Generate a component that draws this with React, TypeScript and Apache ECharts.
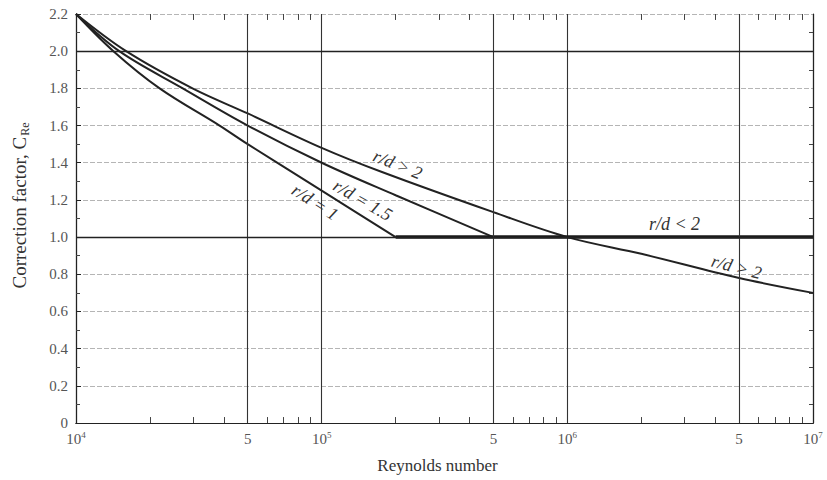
import React, { useEffect, useRef } from "react";
import * as echarts from "echarts";

// ---- data ----
const reynoldsRd1 = [1e4, 1.42e4, 2.19e4, 3.84e4, 5e4, 1e5, 2e5];
const factorRd1 = [2.2, 2.0, 1.8, 1.6, 1.5, 1.25, 1.0];

const reynoldsRd15 = [1e4, 1.5e4, 2.72e4, 5e4, 1e5, 2e5, 5e5];
const factorRd15 = [2.2, 2.0, 1.8, 1.6, 1.4, 1.225, 1.0];

const reynoldsRd2 = [1e4, 1.6e4, 2.98e4, 5e4, 1e5, 1.76e5, 5e5, 1e6, 2e6, 5e6, 1e7];
const factorRd2 = [2.2, 2.0, 1.8, 1.665, 1.48, 1.35, 1.134, 1.0, 0.91, 0.78, 0.7];

const reynoldsFlat = [2e5, 1e7];
const factorFlat = [1.0, 1.0];

const halfDecadeLines = [5e4, 5e5, 5e6];
const halfDecadeLabel = "5";
const darkFactorLines = [2.0, 1.0];
const decades = [1e4, 1e5, 1e6];
const minorMultipliers = [2, 3, 4, 6, 7, 8, 9];

const curveLabels = [
  { text: "r/d > 2", re: 2.04e5, cf: 1.39, angle: -22 },
  { text: "r/d = 1.5", re: 1.47e5, cf: 1.199, angle: -30 },
  { text: "r/d = 1", re: 9.4e4, cf: 1.188, angle: -33 },
  { text: "r/d < 2", re: 2.73e6, cf: 1.07, angle: 0 },
  { text: "r/d > 2", re: 4.88e6, cf: 0.839, angle: -15 },
];

const zip = (xs: number[], ys: number[]) => xs.map((x, i) => [x, ys[i]]);

const SERIF = "'Liberation Serif', 'DejaVu Serif', serif";
const INK = "#222";
const LABEL = "#555";

export default function App() {
  const ref = useRef<HTMLDivElement>(null);
  useEffect(() => {
    document.body.style.margin = "0";
    if (!ref.current) return;
    const chart = echarts.init(ref.current, undefined, { renderer: "svg" });

    const minorTicks: number[] = [];
    decades.forEach((d) => minorMultipliers.forEach((m) => minorTicks.push(d * m)));

    const tickMarks: any[] = [];
    minorTicks.forEach((x) => {
      tickMarks.push([{ coord: [x, 0] }, { coord: [x, 0.032] }]);
      tickMarks.push([{ coord: [x, 2.2] }, { coord: [x, 2.168] }]);
    });

    const curveStyle = { color: INK, width: 2 };

    chart.setOption({
      animation: false,
      backgroundColor: "#fff",
      grid: { left: 73, right: 14, top: 14, bottom: 57, containLabel: false },
      xAxis: [
        {
          type: "log",
          logBase: 10,
          min: 1e4,
          max: 1e7,
          name: "Reynolds number",
          nameLocation: "middle",
          nameGap: 34,
          nameTextStyle: { fontFamily: SERIF, fontSize: 17, color: "#333", padding: [0, 14, 0, 0] },
          axisLine: { show: true, lineStyle: { color: INK, width: 1.2 } },
          axisTick: { show: false },
          axisLabel: {
            margin: 7,
            fontFamily: SERIF,
            formatter: (v: number) => `{b|10}{s|${Math.round(Math.log10(v))}}`,
            rich: {
              b: { fontFamily: SERIF, fontSize: 15, color: LABEL },
              s: { fontFamily: SERIF, fontSize: 9, color: LABEL, verticalAlign: "bottom", padding: [0, 0, 8, 0] },
            },
          },
          splitLine: { show: true, lineStyle: { color: "#333", width: 1.1 } },
        },
        {
          type: "log",
          logBase: 10,
          min: 1e4,
          max: 1e7,
          position: "top",
          axisLine: { show: true, lineStyle: { color: INK, width: 1.2 } },
          axisTick: { show: false },
          axisLabel: { show: false },
          splitLine: { show: false },
        },
      ],
      yAxis: [
        {
          type: "value",
          min: 0,
          max: 2.2,
          interval: 0.2,
          name: "{a|Correction factor, C}{b|Re}",
          nameLocation: "middle",
          nameGap: 46,
          nameTextStyle: {
            padding: [0, 0, 0, 26],
            rich: {
              a: { fontFamily: SERIF, fontSize: 19, color: "#333", lineHeight: 22 },
              b: { fontFamily: SERIF, fontSize: 12, color: "#333", lineHeight: 22, verticalAlign: "top", padding: [11, 0, 0, 1] },
            },
          },
          axisLine: { show: true, lineStyle: { color: INK, width: 1.2 } },
          axisTick: { show: true, inside: true, length: 5, lineStyle: { color: INK } },
          minorTick: { show: true, splitNumber: 2, length: 4, lineStyle: { color: "#444" } },
          axisLabel: {
            margin: 8,
            fontFamily: SERIF,
            fontSize: 15,
            color: LABEL,
            formatter: (v: number) => (v === 0 ? "0" : v.toFixed(1)),
          },
          splitLine: { show: true, lineStyle: { color: "#b5b5b5", width: 1, type: [5, 2] } },
        },
        {
          type: "value",
          min: 0,
          max: 2.2,
          interval: 0.2,
          position: "right",
          axisLine: { show: true, lineStyle: { color: INK, width: 1.2 } },
          axisTick: { show: true, inside: true, length: 0 },
          minorTick: { show: true, splitNumber: 2, length: 4, lineStyle: { color: "#444" } },
          axisLabel: { show: false },
          splitLine: { show: false },
        },
      ],
      series: [
        {
          name: "grid marks",
          type: "line",
          data: [],
          markLine: {
            silent: true,
            symbol: ["none", "none"],
            animation: false,
            data: [
              ...halfDecadeLines.map((x) => ({
                xAxis: x,
                lineStyle: { color: "#333", width: 1.1, type: "solid" },
                label: {
                  show: true,
                  position: "start",
                  formatter: halfDecadeLabel,
                  fontFamily: SERIF,
                  fontSize: 15,
                  color: LABEL,
                  distance: 8,
                },
              })),
              ...darkFactorLines.map((y) => ({
                yAxis: y,
                lineStyle: { color: INK, width: 1.3, type: "solid" },
                label: { show: false },
              })),
              ...tickMarks.map((pair) => [
                { ...pair[0], lineStyle: { color: "#444", width: 1, type: "solid" }, label: { show: false } },
                pair[1],
              ]),
            ],
          },
        },
        {
          name: "r/d = 1",
          type: "line",
          data: zip(reynoldsRd1, factorRd1),
          showSymbol: false,
          smooth: 0.35,
          lineStyle: curveStyle,
        },
        {
          name: "r/d = 1.5",
          type: "line",
          data: zip(reynoldsRd15, factorRd15),
          showSymbol: false,
          smooth: 0.35,
          lineStyle: curveStyle,
        },
        {
          name: "r/d > 2",
          type: "line",
          data: zip(reynoldsRd2, factorRd2),
          showSymbol: false,
          smooth: 0.35,
          lineStyle: curveStyle,
        },
        {
          name: "r/d < 2",
          type: "line",
          data: zip(reynoldsFlat, factorFlat),
          showSymbol: false,
          lineStyle: { color: "#1a1a1a", width: 3.5 },
        },
      ],
    });

    const graphics = curveLabels.map((l) => {
      const p = chart.convertToPixel({ xAxisIndex: 0, yAxisIndex: 0 }, [l.re, l.cf]) as number[];
      return {
        type: "text",
        x: p[0],
        y: p[1],
        rotation: (l.angle * Math.PI) / 180,
        silent: true,
        style: {
          text: l.text,
          x: 0,
          y: 0,
          textAlign: "center",
          textVerticalAlign: "middle",
          fontFamily: SERIF,
          fontStyle: "italic",
          fontSize: 18,
          fill: "#333",
        },
      };
    });
    chart.setOption({ graphic: graphics });

    return () => chart.dispose();
  }, []);
  return <div ref={ref} style={{ width: 827, height: 480 }} />;
}
